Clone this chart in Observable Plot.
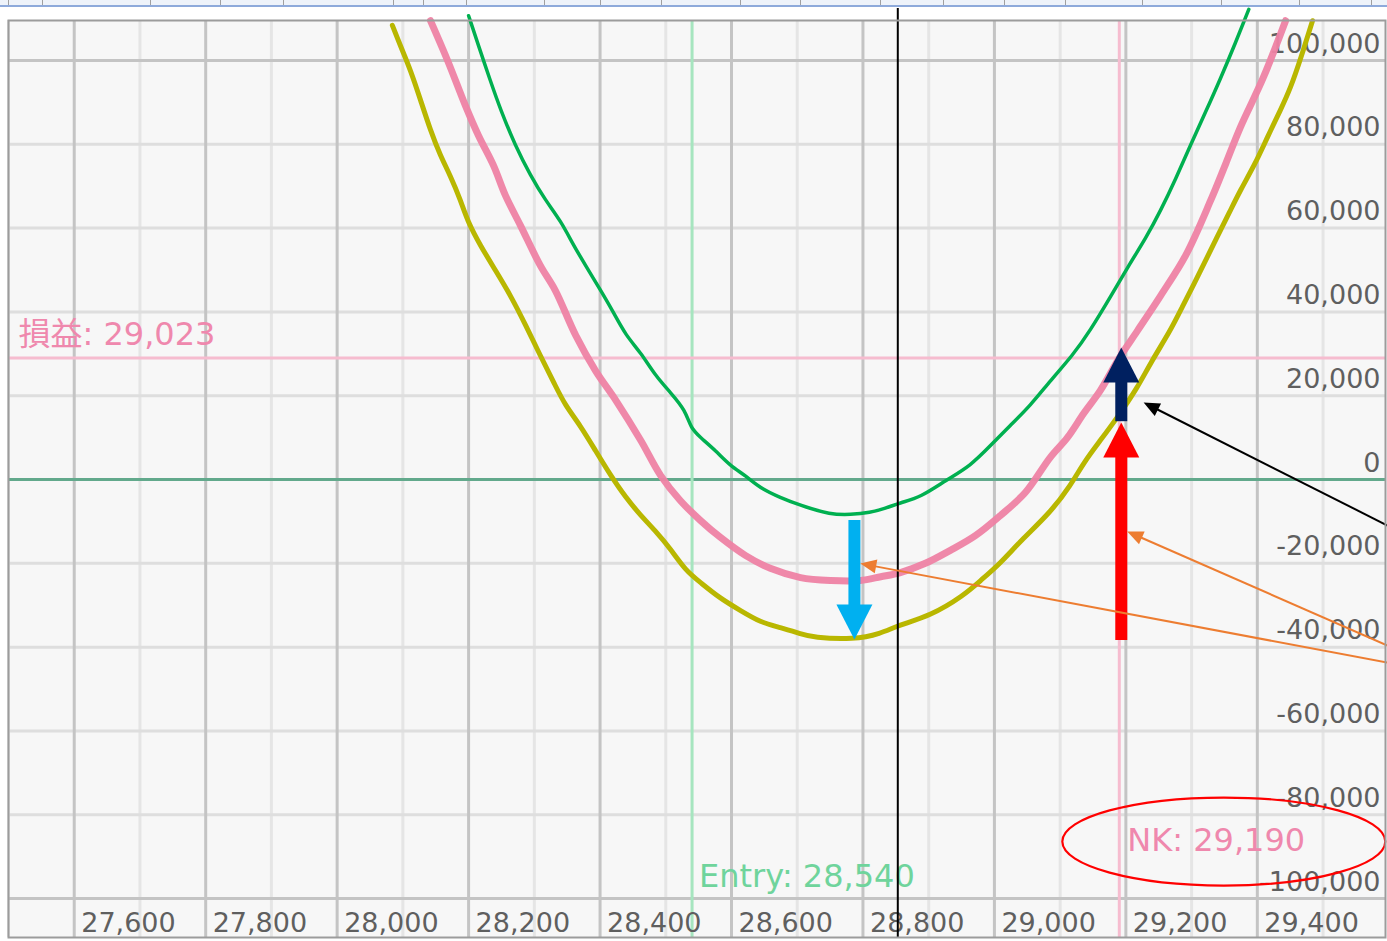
<!DOCTYPE html>
<html><head><meta charset="utf-8">
<script src="https://cdn.jsdelivr.net/npm/d3@7"></script>
<script src="https://cdn.jsdelivr.net/npm/@observablehq/plot@0.6"></script>
<style>
html,body{margin:0;padding:0;background:#fff;}
#wrap{position:relative;width:1387px;height:941px;overflow:hidden;}
#strip{position:absolute;left:0;top:0;width:1387px;height:5px;background:#eef3fa;border-bottom:2px solid #8eaadb;z-index:2;}
.sep{position:absolute;top:0;width:1px;height:5px;background:#a0a0a0;}
#chart{position:absolute;left:0;top:0;}
</style></head><body>
<div id="wrap"><div id="strip"></div><div id="chart"></div></div>
<script>
// ---- data ----
const xDomain = [27500, 29595];
const yDomain = [-109300, 109550];
const xTicks = [27600, 27800, 28000, 28200, 28400, 28600, 28800, 29000, 29200, 29400];
const xGridMinor = [27500, 27700, 27900, 28100, 28300, 28500, 28700, 28900, 29100, 29300, 29500];
const yTicks = [-100000, -80000, -60000, -40000, -20000, 0, 20000, 40000, 60000, 80000, 100000];

const entryPrice = 28540;
const nkPrice = 29190;
const pnlAtNk = 29023;
const cursorPrice = 28853;
const cursorTop = 112400;

const priceGreen = [28200,28215,28233,28249,28271,28294,28317,28340,28360,28378,28401,28419,28439,28462,28484,28507,28530,28538,28553,28576,28598,28621,28644,28674,28705,28751,28781,28811,28834,28857,28887,28926,28964,28994,29024,29055,29085,29119,29146,29177,29207,29230,29253,29276,29298,29321,29344,29367,29387];
const pnlGreen = [110700,103600,95200,88100,79700,72600,66600,61800,55800,51100,45100,40300,34400,30300,24800,20800,16500,12200,10000,6900,3300,1000,-2100,-4300,-6200,-8400,-8400,-7900,-6900,-5500,-4300,-200,3300,8100,12900,17700,23600,29600,35600,43700,51800,57500,64200,71800,79700,87600,95700,104300,112200];

const pricePink = [28142,28168,28195,28215,28238,28256,28279,28309,28332,28363,28393,28424,28462,28492,28522,28553,28583,28621,28659,28705,28751,28796,28827,28857,28895,28933,28971,29009,29047,29085,29111,29136,29161,29190,29218,29253,29291,29329,29352,29374,29409,29443];
const pnlPink = [109500,100000,89300,82100,74900,67800,60600,51100,45100,34400,26000,18900,9300,1000,-5000,-9800,-13800,-18100,-21200,-23400,-24100,-24100,-23200,-22200,-20000,-16900,-13400,-8600,-3100,5300,10000,15800,21200,29023,35600,43900,53500,66600,75400,84000,95900,109500];

const priceYellow = [28084,28096,28112,28127,28142,28157,28172,28188,28198,28218,28241,28264,28287,28309,28332,28347,28370,28393,28416,28439,28462,28484,28507,28530,28553,28583,28614,28644,28674,28705,28724,28786,28827,28853,28903,28953,28979,29009,29040,29085,29116,29136,29161,29187,29218,29237,29268,29283,29314,29336,29359,29374,29397,29415,29435,29451,29466,29484];
const pnlYellow = [108400,103600,97600,90500,83300,77300,72600,66600,61800,55800,49900,43900,36800,29600,22400,17700,12900,6900,1000,-4300,-8600,-12200,-16500,-21700,-24600,-28400,-31300,-34100,-35300,-36800,-37700,-38200,-36800,-34800,-32500,-27700,-24100,-20000,-14600,-7900,-1400,4100,9300,14800,22000,27700,35600,40300,49900,57000,64200,69000,75400,81600,88100,93600,100500,109500];

// annotation arrows (data coordinates)
const blockArrowX = [28787, 29193, 29193];
const blockArrowTail = [-9800, 13800, -38400];
const blockArrowTip = [-38186, 31500, 13600];
const blockArrowColor = ["#00b0f0", "#002060", "#ff0000"];

const thinArrowX1 = [29598, 29598, 29598];
const thinArrowY1 = [-10980, -39620, -43680];
const thinArrowX2 = [29227, 29202, 28796];
const thinArrowY2 = [18380, -12410, -20050];
const thinArrowColor = ["#000000", "#ed7d31", "#ed7d31"];

const ellipseCenter = {x: 29349, y: -86400};

// ---- layout ----
const W = 1387, H = 941;
const M = {top: 20, right: 2, bottom: 4, left: 8};
const xs = d3.scaleLinear(xDomain, [M.left, W - M.right]);
const ys = d3.scaleLinear(yDomain, [H - M.bottom, M.top]);
const fmt = v => v.toLocaleString("en-US");
const font = "'DejaVu Sans', 'Noto Sans CJK JP', sans-serif";
const rows = (px, py) => px.map((x, i) => ({x, y: py[i]}));

const blockRows = blockArrowX.map((x, i) => {
  const tail = blockArrowTail[i], tip = blockArrowTip[i];
  const dir = Math.sign(tip - tail);
  const neck = ys.invert(ys(tip) + dir * 26);
  return {x, tail, tip, neck, rotate: dir > 0 ? 0 : 180, color: blockArrowColor[i]};
});
const thinRows = thinArrowX1.map((x1, i) => {
  const px1 = xs(x1), py1 = ys(thinArrowY1[i]);
  const px2 = xs(thinArrowX2[i]), py2 = ys(thinArrowY2[i]);
  const len = Math.hypot(px2 - px1, py2 - py1);
  const ux = (px2 - px1) / len, uy = (py2 - py1) / len;
  return {
    x1, y1: thinArrowY1[i], x2: thinArrowX2[i], y2: thinArrowY2[i],
    ex: xs.invert(px2 - ux * 10), ey: ys.invert(py2 - uy * 10),
    rotate: Math.atan2(ux, -uy) * 180 / Math.PI, color: thinArrowColor[i]
  };
});

const blockHead = {draw(ctx) { ctx.moveTo(0, 0); ctx.lineTo(-18, 35); ctx.lineTo(18, 35); ctx.closePath(); }};
const thinHead = {draw(ctx) { ctx.moveTo(0, 0); ctx.lineTo(-7, 16); ctx.lineTo(7, 16); ctx.closePath(); }};
const ellipseSym = {draw(ctx) {
  const rx = 161.5, ry = 44, k = 0.5523;
  ctx.moveTo(-rx, 0);
  ctx.bezierCurveTo(-rx, -ry * k, -rx * k, -ry, 0, -ry);
  ctx.bezierCurveTo(rx * k, -ry, rx, -ry * k, rx, 0);
  ctx.bezierCurveTo(rx, ry * k, rx * k, ry, 0, ry);
  ctx.bezierCurveTo(-rx * k, ry, -rx, ry * k, -rx, 0);
  ctx.closePath();
}};

const axisGray = "#5f5f5f";
const pinkText = "#ef88ad";
const greenText = "#6fd49c";

const chart = Plot.plot({
  width: W, height: H,
  marginTop: M.top, marginRight: M.right, marginBottom: M.bottom, marginLeft: M.left,
  x: {domain: xDomain, axis: null},
  y: {domain: yDomain, axis: null},
  style: {fontFamily: font, background: "transparent", overflow: "visible"},
  marks: [
    Plot.frame({fill: "#f7f7f7", stroke: null}),
    Plot.ruleX(xGridMinor, {stroke: "#e5e5e5", strokeWidth: 3}),
    Plot.ruleY(yTicks.filter(v => Math.abs(v) !== 100000 && v !== 0), {stroke: "#dedede", strokeWidth: 3}),
    Plot.ruleY(yTicks.filter(v => Math.abs(v) === 100000), {stroke: "#c4c4c4", strokeWidth: 3}),
    Plot.ruleX(xTicks, {stroke: "#c4c4c4", strokeWidth: 3}),
    Plot.ruleY([0], {stroke: "#62a98c", strokeWidth: 3}),
    Plot.ruleX([entryPrice], {stroke: "#a6e5bf", strokeWidth: 3}),
    Plot.ruleX([nkPrice], {stroke: "#f6bccf", strokeWidth: 3}),
    Plot.ruleY([pnlAtNk], {stroke: "#f6bccf", strokeWidth: 3}),
    Plot.text(xTicks, {x: d => d, text: d => fmt(d), frameAnchor: "bottom", textAnchor: "start",
      lineAnchor: "bottom", dx: 7, dy: -6, fontSize: 27, fill: axisGray}),
    Plot.text(yTicks, {y: d => d, text: d => fmt(d), frameAnchor: "right", textAnchor: "end",
      lineAnchor: "bottom", dx: -5, dy: -8, fontSize: 27, fill: axisGray}),
    Plot.text([pnlAtNk], {y: d => d, text: d => `損益: ${fmt(d)}`, frameAnchor: "left", textAnchor: "start",
      lineAnchor: "bottom", dx: 10, dy: -13, fontSize: 32, fill: pinkText}),
    Plot.text([entryPrice], {x: d => d, text: d => `Entry: ${fmt(d)}`, frameAnchor: "bottom", textAnchor: "start",
      lineAnchor: "bottom", dx: 7, dy: -51, fontSize: 32, fill: greenText}),
    Plot.text([nkPrice], {x: d => d, text: d => `NK: ${fmt(d)}`, frameAnchor: "bottom", textAnchor: "start",
      lineAnchor: "bottom", dx: 8, dy: -87, fontSize: 32, fill: pinkText}),
    Plot.line(rows(priceYellow, pnlYellow), {x: "x", y: "y", stroke: "#b9b700", strokeWidth: 5, curve: "basis"}),
    Plot.line(rows(pricePink, pnlPink), {x: "x", y: "y", stroke: "#ee82a4", strokeWidth: 7, strokeOpacity: 0.95, curve: "catmull-rom"}),
    Plot.line(rows(priceGreen, pnlGreen), {x: "x", y: "y", stroke: "#00b050", strokeWidth: 3.5, curve: "basis"}),
    Plot.ruleX([{x: cursorPrice, y1: cursorTop, y2: yDomain[0]}], {x: "x", y1: "y1", y2: "y2", stroke: "#000", strokeWidth: 2}),
    Plot.ruleX(blockRows, {x: "x", y1: "tail", y2: "neck", stroke: "color", strokeWidth: 12}),
    Plot.dot(blockRows, {x: "x", y: "tip", symbol: blockHead, rotate: "rotate", fill: "color", stroke: null, r: 10}),
    Plot.link(thinRows, {x1: "x1", y1: "y1", x2: "ex", y2: "ey", stroke: "color", strokeWidth: 2}),
    Plot.dot(thinRows, {x: "x2", y: "y2", symbol: thinHead, rotate: "rotate", fill: "color", stroke: null, r: 5}),
    Plot.dot([ellipseCenter], {x: "x", y: "y", symbol: ellipseSym, fill: "none", stroke: "#ff0000", strokeWidth: 2.2, r: 10}),
    Plot.frame({stroke: "#9c9c9c", strokeWidth: 2})
  ]
});
document.getElementById("chart").appendChild(chart);

// window chrome strip separators
const strip = document.getElementById("strip");
[8, 42, 150, 220, 283, 393, 423, 466, 544, 600, 661, 740, 800, 880, 943, 1004, 1065, 1142, 1221, 1299, 1371].forEach(p => {
  const s = document.createElement("div"); s.className = "sep"; s.style.left = p + "px"; strip.appendChild(s);
});
</script>
</body></html>
